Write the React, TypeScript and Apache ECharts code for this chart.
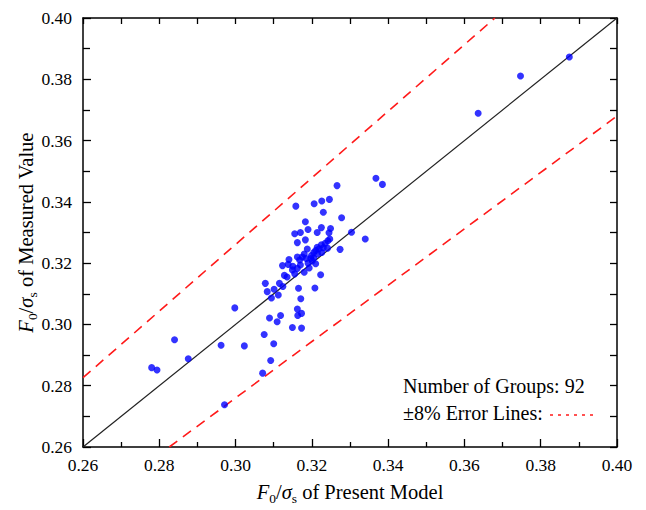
import React, { useEffect, useRef } from "react";
import * as echarts from "echarts";

const AXIS_MIN = 0.26;
const AXIS_MAX = 0.4;
const ERROR_RATIO = 0.92;
const GROUP_COUNT = 92;

const presentModel: number[] = [
  0.3875, 0.3747, 0.3636, 0.3368, 0.3385, 0.3266, 0.3158, 0.3206, 0.3226, 0.3246,
  0.323, 0.3278, 0.3183, 0.3225, 0.3249, 0.319, 0.3155, 0.317, 0.3214, 0.3245,
  0.3304, 0.3183, 0.3247, 0.3242, 0.334, 0.3162, 0.3225, 0.3214, 0.3219, 0.3241,
  0.3274, 0.3188, 0.321, 0.3226, 0.3162, 0.3175, 0.3199, 0.3205, 0.3197, 0.314,
  0.3168, 0.321, 0.3201, 0.3138, 0.3123, 0.317, 0.3193, 0.3162, 0.3149, 0.3155,
  0.3135, 0.3223, 0.3078, 0.3115, 0.3124, 0.3101, 0.3083, 0.3112, 0.3094, 0.3165,
  0.3208, 0.3171, 0.3162, 0.3163, 0.3173, 0.3118, 0.3109, 0.3089, 0.3149, 0.3173,
  0.3075, 0.31, 0.3092, 0.2998, 0.284, 0.2962, 0.3023, 0.2876, 0.278, 0.2794,
  0.3071, 0.2971, 0.318, 0.319, 0.3215, 0.323, 0.315, 0.318, 0.3205, 0.3235,
  0.3128, 0.3185,
];

const measured: number[] = [
  0.3873, 0.3811, 0.3689, 0.3477, 0.3457, 0.3453, 0.3386, 0.3394, 0.3403, 0.3408,
  0.3366, 0.3348, 0.3335, 0.3316, 0.3313, 0.331, 0.3296, 0.33, 0.33, 0.3299,
  0.3301, 0.3276, 0.3279, 0.3273, 0.3279, 0.3267, 0.326, 0.3252, 0.3247, 0.3249,
  0.3245, 0.3246, 0.3241, 0.3235, 0.322, 0.322, 0.3225, 0.3217, 0.3215, 0.3212,
  0.321, 0.3198, 0.3207, 0.3196, 0.3192, 0.3194, 0.3184, 0.3183, 0.3178, 0.3165,
  0.3155, 0.3162, 0.3134, 0.3134, 0.3124, 0.3115, 0.3107, 0.3096, 0.3086, 0.3118,
  0.3119, 0.3084, 0.305, 0.3029, 0.3036, 0.3029, 0.3009, 0.3021, 0.299, 0.2988,
  0.2967, 0.2937, 0.2882, 0.3054, 0.295, 0.2932, 0.293, 0.2888, 0.2859, 0.2851,
  0.2841, 0.2738, 0.323, 0.32, 0.323, 0.325, 0.319, 0.317, 0.3235, 0.3265,
  0.316, 0.3215,
];

const FONT = "'Liberation Serif', 'Times New Roman', serif";

const richBase = {
  i: { fontFamily: FONT, fontStyle: "italic", fontSize: 20.5, lineHeight: 26, color: "#000" },
  n: { fontFamily: FONT, fontSize: 20.5, lineHeight: 26, color: "#000" },
  sub: { fontFamily: FONT, fontSize: 13.5, lineHeight: 14, verticalAlign: "bottom", color: "#000" },
};

export default function App() {
  const ref = useRef<HTMLDivElement>(null);
  useEffect(() => {
    if (!ref.current) return;
    const chart = echarts.init(ref.current, undefined, { renderer: "svg" });
    const points = presentModel.map((x, k) => [x, measured[k]]);
    const diag = [
      [AXIS_MIN, AXIS_MIN],
      [AXIS_MAX, AXIS_MAX],
    ];
    const upper = [
      [AXIS_MIN, AXIS_MIN / ERROR_RATIO],
      [AXIS_MAX * ERROR_RATIO, AXIS_MAX],
    ];
    const lower = [
      [AXIS_MIN / ERROR_RATIO, AXIS_MIN],
      [AXIS_MAX, AXIS_MAX * ERROR_RATIO],
    ];
    const axisLine = { show: true, onZero: false, lineStyle: { color: "#000", width: 1.5 } };
    const label = {
      fontFamily: FONT,
      fontSize: 17.5,
      color: "#000",
      formatter: (v: number) => v.toFixed(2),
    };
    const common = {
      type: "value",
      min: AXIS_MIN,
      max: AXIS_MAX,
      interval: 0.02,
      splitLine: { show: false },
      axisLine,
    };
    chart.setOption({
      animation: false,
      backgroundColor: "#fff",
      grid: { left: 83, right: 29, top: 18, bottom: 61, containLabel: false },
      xAxis: [
        {
          ...common,
          position: "bottom",
          axisTick: { show: true, inside: true, length: 8, lineStyle: { color: "#000", width: 1.3 } },
          minorTick: { show: true, splitNumber: 2, length: 5, lineStyle: { color: "#000", width: 1.3 } },
          axisLabel: { ...label, margin: 9 },
          name: "{i|F}{sub|0}{n|/}{i|σ}{sub|s}{n| of Present Model}",
          nameLocation: "middle",
          nameGap: 32,
          nameMoveOverlap: false,
          nameTextStyle: { rich: richBase },
        },
        {
          ...common,
          position: "top",
          axisTick: { show: true, inside: true, length: 6, lineStyle: { color: "#000", width: 1.3 } },
          minorTick: { show: true, splitNumber: 2, length: 6, lineStyle: { color: "#000", width: 1.3 } },
          axisLabel: { show: false },
        },
      ],
      yAxis: [
        {
          ...common,
          position: "left",
          axisTick: { show: true, inside: true, length: 8, lineStyle: { color: "#000", width: 1.3 } },
          minorTick: { show: true, splitNumber: 2, length: 7, lineStyle: { color: "#000", width: 1.3 } },
          axisLabel: { ...label, margin: 11 },
          name: "{i|F}{sub|0}{n|/}{i|σ}{sub|s}{n| of Measured Value}",
          nameLocation: "middle",
          nameGap: 44,
          nameMoveOverlap: false,
          nameTextStyle: { rich: richBase },
        },
        {
          ...common,
          position: "right",
          axisTick: { show: true, inside: true, length: 7, lineStyle: { color: "#000", width: 1.3 } },
          minorTick: { show: true, splitNumber: 2, length: 7, lineStyle: { color: "#000", width: 1.3 } },
          axisLabel: { show: false },
        },
      ],
      series: [
        {
          type: "line",
          data: diag,
          symbol: "none",
          lineStyle: { color: "#222", width: 1.2 },
          silent: true,
        },
        {
          type: "line",
          data: upper,
          symbol: "none",
          lineStyle: { color: "#ff1a1a", width: 1.6, type: [10, 7] },
          silent: true,
        },
        {
          type: "line",
          data: lower,
          symbol: "none",
          lineStyle: { color: "#ff1a1a", width: 1.6, type: [10, 7] },
          silent: true,
        },
        {
          type: "scatter",
          data: points,
          symbol: "circle",
          symbolSize: 7,
          itemStyle: { color: "#0000ff" },
          z: 5,
        },
      ],
      graphic: [
        {
          type: "text",
          left: 403,
          top: 376,
          style: {
            text: `Number of Groups: ${GROUP_COUNT}`,
            fontFamily: FONT,
            fontSize: 20,
            fill: "#000",
          },
        },
        {
          type: "text",
          left: 403,
          top: 403,
          style: {
            text: `±${Math.round((1 - ERROR_RATIO) * 100)}% Error Lines:`,
            fontFamily: FONT,
            fontSize: 20,
            fill: "#000",
          },
        },
        {
          type: "line",
          shape: { x1: 550, y1: 415, x2: 593, y2: 415 },
          style: { stroke: "#ff1a1a", lineWidth: 1.5, lineDash: [3, 5] },
        },
      ],
    });
    return () => chart.dispose();
  }, []);
  return (
    <div
      ref={ref}
      style={{ position: "absolute", left: 0, top: 0, width: 646, height: 510 }}
    />
  );
}
